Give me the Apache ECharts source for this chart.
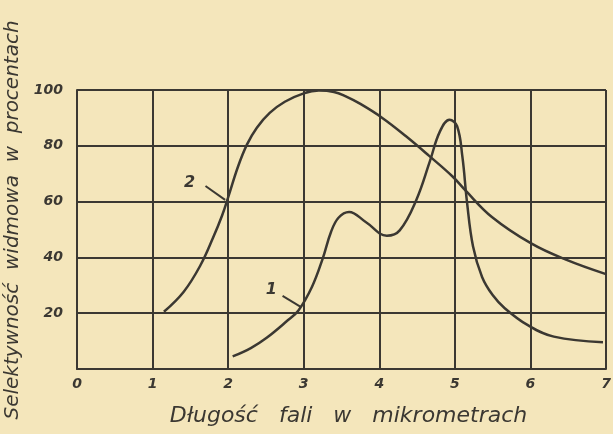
<!DOCTYPE html>
<html>
<head>
<meta charset="utf-8">
<script src="https://cdn.jsdelivr.net/npm/echarts@6/dist/echarts.min.js"></script>
<style>
  html, body { margin: 0; padding: 0; background: #f4e6bb; }
  #chart { width: 613px; height: 434px; }
</style>
</head>
<body>
<div id="chart"></div>
<script>
// krzywa 2 (szersza)
var curve2 = [
  [1.15, 20.5], [1.41, 27.6], [1.63, 37], [1.8, 47], [1.92, 55], [2.0, 61.5],
  [2.13, 72.5], [2.25, 80.5], [2.38, 86.5], [2.55, 91.8], [2.75, 95.8], [3.0, 98.8],
  [3.2, 99.8], [3.4, 99.3], [3.55, 97.8], [3.75, 95], [4.04, 90], [4.35, 83.5],
  [4.66, 76.4], [4.97, 69], [5.14, 64], [5.49, 54.5], [6.01, 45], [6.47, 39.2],
  [7.0, 34]
];
// krzywa 1 (dwa maksima)
var curve1 = [
  [2.06, 4.5], [2.3, 7.5], [2.51, 11.2], [2.77, 17], [2.93, 21], [3.11, 29.5],
  [3.25, 39.5], [3.36, 49], [3.46, 54.2], [3.6, 56.3], [3.82, 52.7], [4.1, 47.8],
  [4.27, 49.7], [4.49, 60.6], [4.67, 74.5], [4.8, 85], [4.93, 89.3], [5.03, 87],
  [5.1, 76], [5.16, 60], [5.24, 44], [5.36, 33], [5.5, 26.5], [5.66, 21.8],
  [5.96, 15.8], [6.31, 11.6], [6.96, 9.6]
];
var xTicks = [0, 1, 2, 3, 4, 5, 6, 7];
var yTicks = [0, 20, 40, 60, 80, 100];

var ink = "#3b3832";
var font = "DejaVu Sans";

var myChart = echarts.init(document.getElementById("chart"));
var option = {
  backgroundColor: "#f4e6bb",
  animation: false,
  grid: { left: 77, right: 7, top: 90, bottom: 65, outerBoundsMode: "none" },
  xAxis: {
    type: "value",
    min: xTicks[0],
    max: xTicks[xTicks.length - 1],
    interval: 1,
    name: "  Długość   fali   w   mikrometrach",
    nameLocation: "middle",
    nameGap: 36,
    nameTextStyle: { color: ink, fontFamily: font, fontStyle: "italic", fontSize: 22 },
    axisLine: { show: true, lineStyle: { color: ink, width: 2 } },
    axisTick: { show: false },
    axisLabel: { color: ink, fontFamily: font, fontStyle: "italic", fontWeight: "bold", fontSize: 14, margin: 8 },
    splitLine: { show: true, lineStyle: { color: ink, width: 2 } }
  },
  yAxis: {
    type: "value",
    min: yTicks[0],
    max: yTicks[yTicks.length - 1],
    interval: 20,
    name: "   Selektywność  widmowa  w  procentach",
    nameLocation: "middle",
    nameGap: 52,
    nameTextStyle: { color: ink, fontFamily: font, fontStyle: "italic", fontSize: 20 },
    axisLine: { show: true, lineStyle: { color: ink, width: 2 } },
    axisTick: { show: false },
    axisLabel: {
      color: ink, fontFamily: font, fontStyle: "italic", fontWeight: "bold", fontSize: 14, margin: 14,
      formatter: function (v) { return v === 0 ? "" : v; }
    },
    splitLine: { show: true, lineStyle: { color: ink, width: 2 } }
  },
  series: [
    {
      name: "2",
      type: "line",
      data: curve2,
      smooth: 0.4,
      showSymbol: false,
      lineStyle: { color: ink, width: 2.5 },
      markLine: {
        silent: true,
        symbol: "none",
        label: { show: false },
        lineStyle: { color: ink, width: 2, type: "solid" },
        data: [[{ coord: [1.7, 65.6] }, { coord: [1.96, 60.6] }]]
      },
      markPoint: {
        symbol: "circle",
        symbolSize: 0,
        label: { show: true, formatter: "2", color: ink, fontFamily: font, fontStyle: "italic", fontWeight: "bold", fontSize: 16 },
        data: [{ coord: [1.49, 66.7] }]
      }
    },
    {
      name: "1",
      type: "line",
      data: curve1,
      smooth: 0.4,
      showSymbol: false,
      lineStyle: { color: ink, width: 2.5 },
      markLine: {
        silent: true,
        symbol: "none",
        label: { show: false },
        lineStyle: { color: ink, width: 2, type: "solid" },
        data: [[{ coord: [2.72, 26.2] }, { coord: [2.96, 22.3] }]]
      },
      markPoint: {
        symbol: "circle",
        symbolSize: 0,
        label: { show: true, formatter: "1", color: ink, fontFamily: font, fontStyle: "italic", fontWeight: "bold", fontSize: 16 },
        data: [{ coord: [2.57, 28.5] }]
      }
    }
  ]
};
myChart.setOption(option);
</script>
</body>
</html>
